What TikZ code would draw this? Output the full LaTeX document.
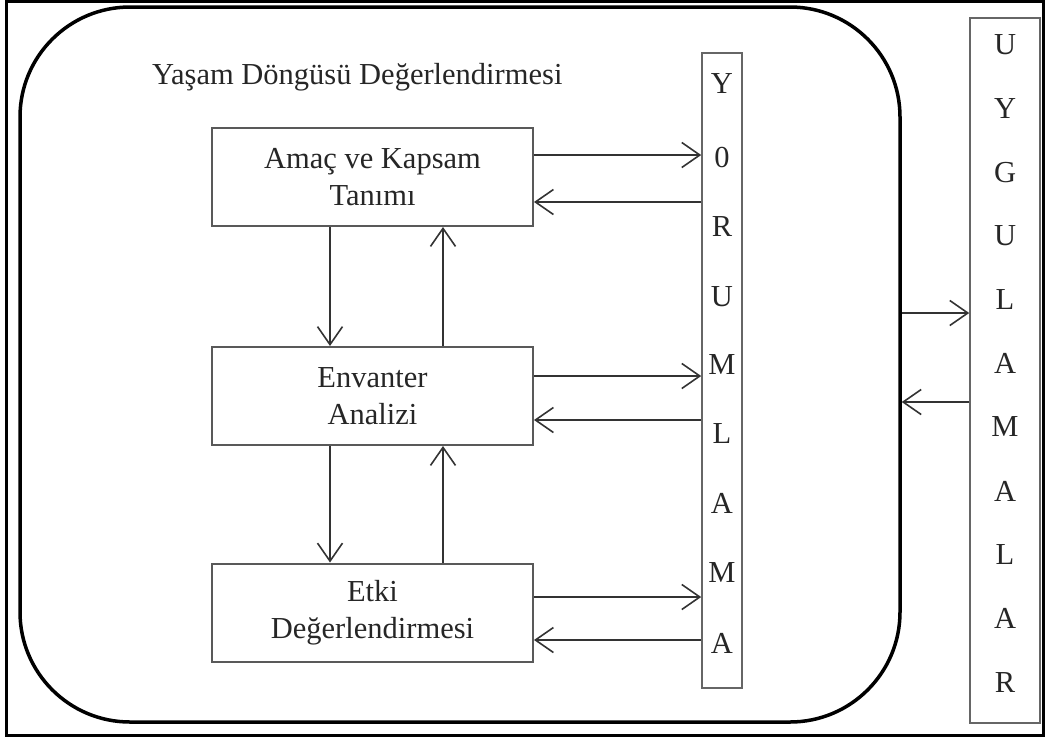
\documentclass[tikz,border=0pt]{standalone}
\usepackage{fontspec}
\setmainfont{Liberation Serif}
\usetikzlibrary{arrows.meta}
\begin{document}
\begin{tikzpicture}[x=1pt,y=-1pt,
  every node/.style={font=\fontsize{30.5}{37}\selectfont, text=black!85},
  stage/.style={draw=black!65, line width=2pt, minimum width=321pt, minimum height=98pt, align=center, inner sep=0pt},
  column/.style={draw=black!60, line width=1.6pt, inner sep=0pt},
  letter/.style={inner sep=0pt},
  flow/.style={draw=black!80, line width=1.6pt, -{Straight Barb[length=18pt,width=25pt,line width=1.6pt]}}
]
\useasboundingbox (0,0) rectangle (1046,740);

% outer frame
\node[draw=black, line width=2.5pt, minimum width=1037pt, minimum height=734pt, inner sep=0pt] (frame) at (525,368.5) {};

% life cycle assessment enclosure
\node[draw=black, line width=3.5pt, rounded corners=110pt, minimum width=880pt, minimum height=715pt, inner sep=0pt] (outer) at (460,364.5) {};
\node[anchor=base west, inner sep=0pt] (title) at (152,84) {Yaşam Döngüsü Değerlendirmesi};

% stages
\node[stage] (amac) at (372.5,177) {Amaç ve Kapsam\\Tanımı};
\node[stage] (env) at (372.5,396) {Envanter\\Analizi};
\node[stage] (etki) at (372.5,612.5) {Etki\\Değerlendirmesi};

% interpretation column
\node[column, minimum width=40pt, minimum height=635pt] (yorum) at (722,370.5) {};
\foreach \ch/\yy [count=\i] in {Y/84, 0/158, R/227, U/297, M/365, L/434, A/503, M/573, A/643}
  \node[letter] (yl\i) at (722,\yy) {\ch};

% applications column
\node[column, minimum width=70pt, minimum height=705pt] (uyg) at (1005,370.5) {};
\foreach \ch/\yy [count=\i] in {U/45, Y/108.7, G/172.4, U/236, L/299.8, A/363.5, M/427, A/491, L/554.6, A/618, R/682}
  \node[letter] (ul\i) at (1005,\yy) {\ch};

% stage <-> interpretation
\draw[flow] (amac.east |- 0,155) -- (yorum.west |- 0,155);
\draw[flow] (yorum.west |- 0,202) -- (amac.east |- 0,202);
\draw[flow] (env.east |- 0,376) -- (yorum.west |- 0,376);
\draw[flow] (yorum.west |- 0,420) -- (env.east |- 0,420);
\draw[flow] (etki.east |- 0,597) -- (yorum.west |- 0,597);
\draw[flow] (yorum.west |- 0,640) -- (etki.east |- 0,640);

% stage <-> stage
\draw[flow] (amac.south -| 330,0) -- (env.north -| 330,0);
\draw[flow] (env.north -| 443,0) -- (amac.south -| 443,0);
\draw[flow] (env.south -| 330,0) -- (etki.north -| 330,0);
\draw[flow] (etki.north -| 443,0) -- (env.south -| 443,0);

% assessment <-> applications
\draw[flow] (outer.east |- 0,313) -- (uyg.west |- 0,313);
\draw[flow] (uyg.west |- 0,402) -- (outer.east |- 0,402);
\end{tikzpicture}
\end{document}
